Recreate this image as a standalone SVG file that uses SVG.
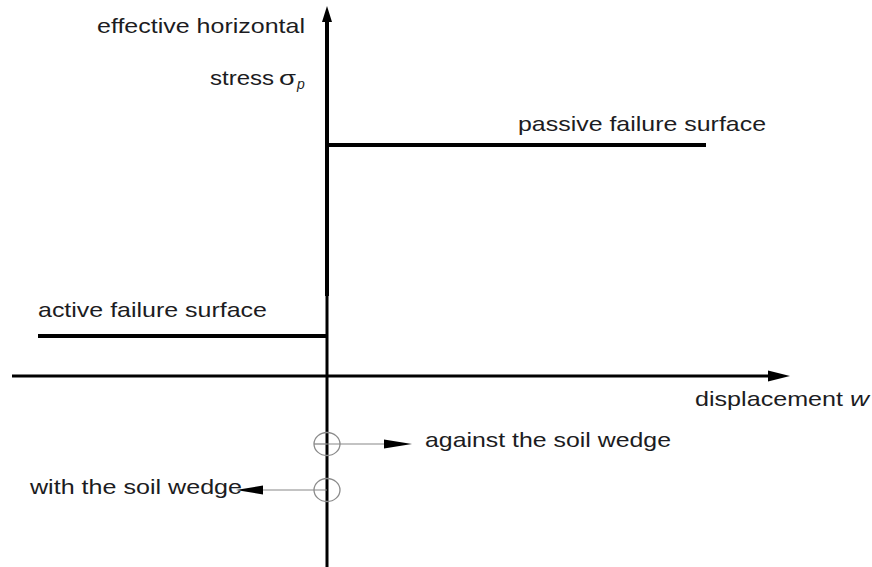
<svg xmlns="http://www.w3.org/2000/svg" width="872" height="567" viewBox="0 0 872 567">
<style>
text{font-family:"Liberation Sans",Arial,sans-serif;font-size:21px;fill:#1c1c22}
.ax{stroke:#000;fill:none}
.thin{stroke:#888;stroke-width:1.2;fill:none}
.circ{stroke:#8a8a8a;stroke-width:1.3;fill:none}
</style>
<rect width="872" height="567" fill="#fff"/>
<g id="axes">
<line class="ax" x1="327" y1="296" x2="327" y2="20" stroke-width="4"/>
<path d="M327,6 L322,22 L332,22 Z" fill="#000"/>
<line class="ax" x1="327" y1="294" x2="327" y2="567" stroke-width="3"/>
<line class="ax" x1="12" y1="376" x2="772" y2="376" stroke-width="3"/>
<path d="M790,376 L768,370.5 L768,381.5 Z" fill="#000"/>
</g>
<g id="passive">
<line class="ax" x1="327" y1="145" x2="706" y2="145" stroke-width="4"/>
<text x="518" y="131" textLength="248" lengthAdjust="spacingAndGlyphs">passive failure surface</text>
</g>
<g id="active">
<line class="ax" x1="38" y1="336" x2="327" y2="336" stroke-width="4"/>
<text x="38" y="317" textLength="229" lengthAdjust="spacingAndGlyphs">active failure surface</text>
</g>
<g id="ylabel">
<text x="97" y="33" textLength="208" lengthAdjust="spacingAndGlyphs">effective horizontal</text>
<text x="210" y="85" textLength="64" lengthAdjust="spacingAndGlyphs">stress</text>
<text x="279" y="85" textLength="17" lengthAdjust="spacingAndGlyphs">σ</text>
<text x="297" y="89" font-style="italic" style="font-size:14px">p</text>
</g>
<g id="xlabel">
<text x="695" y="406" textLength="148" lengthAdjust="spacingAndGlyphs">displacement</text>
<text x="850" y="406" font-style="italic" textLength="19" lengthAdjust="spacingAndGlyphs">w</text>
</g>
<g id="against">
<ellipse class="circ" cx="327" cy="444" rx="13" ry="11.5"/>
<line class="circ" x1="314" y1="444" x2="327" y2="444"/>
<text x="425" y="447" textLength="246" lengthAdjust="spacingAndGlyphs">against the soil wedge</text>
</g>
<g id="with">
<ellipse class="circ" cx="327" cy="490" rx="13" ry="11.5"/>
<text x="30" y="494" textLength="212" lengthAdjust="spacingAndGlyphs">with the soil wedge</text>
</g>
<g id="connectors">
<line class="thin" x1="327" y1="444" x2="386" y2="444"/>
<path d="M412,444 L384,439.5 L384,448.5 Z" fill="#000"/>
<line class="thin" x1="327" y1="490" x2="260" y2="490"/>
<path d="M236,490 L263,485.5 L263,494.5 Z" fill="#000"/>
</g>
</svg>
